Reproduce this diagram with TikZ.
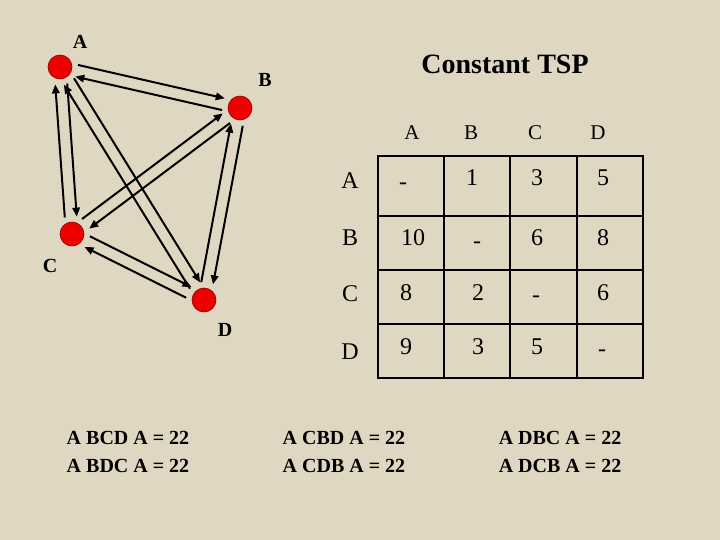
\documentclass[tikz,border=0pt]{standalone}
\usepackage{fontspec}
\setmainfont{Liberation Serif}
\usetikzlibrary{arrows.meta}
\usetikzlibrary{calc}
\definecolor{paper}{RGB}{223,215,193}
\definecolor{dotred}{RGB}{238,0,0}

\begin{document}
\begin{tikzpicture}[x=1pt, y=-1pt, >={Triangle[length=9pt,width=7.5pt]}, line width=2pt, every node/.style={font=\fontsize{24}{26}\selectfont}]
\useasboundingbox[fill=paper] (0,0) rectangle (720,540);
\def\g{17pt}
\def\o{6pt}
% cities
\foreach \n/\x/\y in {A/60/67, B/240/108, C/72/234, D/204/300}
  \node[circle, fill=dotred, draw=red!55!black, line width=0.6pt, minimum size=24pt, inner sep=0pt] (\n) at (\x,\y) {};
\foreach \n/\x/\y in {A/80/42, B/265/80, C/50/266, D/225/330}
  \node[font=\bfseries\fontsize{20}{22}\selectfont] (l\n) at (\x,\y) {\n};
% both ways on every pair
\foreach \p/\q in {A/B, A/C, A/D, B/C, B/D, C/D} {
  \draw[->] ($(\p)!\g!(\q)!\o!90:(\q)$) -- ($(\q)!\g!(\p)!\o!-90:(\p)$);
  \draw[->] ($(\q)!\g!(\p)!\o!90:(\p)$) -- ($(\p)!\g!(\q)!\o!-90:(\q)$);
}
\node[font=\bfseries\fontsize{28}{30}\selectfont] (title) at (505,64) {Constant TSP};
% cost table
\draw[line width=2.4pt] (378,156) rectangle (643,378);
\foreach \x in {444,510,577} \draw[line width=2.4pt] (\x,156) -- (\x,378);
\foreach \y in {216,270,324} \draw[line width=2.4pt] (378,\y) -- (643,\y);
\foreach \n/\x in {A/412, B/471, C/535, D/598}
  \node[font=\fontsize{21}{23}\selectfont] (h\n) at (\x,133) {\n};
\foreach \n/\y in {A/181, B/238, C/294, D/352}
  \node (r\n) at (350,\y) {\n};
\foreach \x/\y/\t [count=\i] in {403/186/-, 472/178/1, 537/178/3, 603/178/5,
    413/238/10, 477/245/-, 537/238/6, 603/238/8,
    406/293/8, 478/293/2, 536/299/-, 603/293/6,
    406/347/9, 478/347/3, 537/347/5, 602/353/-}
  \node (c\i) at (\x,\y) {\t};
% tours
\begin{scope}[every node/.style={font=\bfseries\fontsize{20}{28}\selectfont, align=center}]
\node (t1) at (128,452) {A BCD A = 22\\A BDC A = 22};
\node (t2) at (344,452) {A CBD A = 22\\A CDB A = 22};
\node (t3) at (560,452) {A DBC A = 22\\A DCB A = 22};
\end{scope}
\end{tikzpicture}
\end{document}
